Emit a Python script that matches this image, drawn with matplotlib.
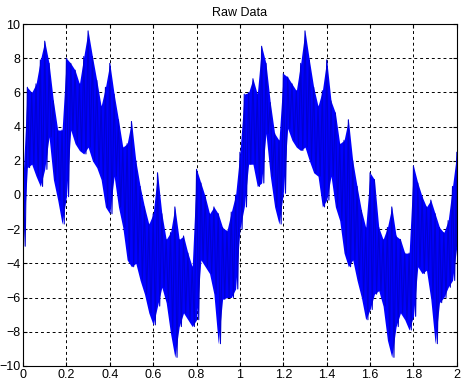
import numpy as np
import matplotlib.pyplot as plt

plt.rcParams['font.family'] = ['Liberation Sans', 'DejaVu Sans']

# envelope of the raw signal, every 0.02 s
t = [0.00, 0.02, 0.04, 0.06, 0.08, 0.10, 0.12, 0.14, 0.16, 0.18,
     0.20, 0.22, 0.24, 0.26, 0.28, 0.30, 0.32, 0.34, 0.36, 0.38,
     0.40, 0.42, 0.44, 0.46, 0.48, 0.50, 0.52, 0.54, 0.56, 0.58,
     0.60, 0.62, 0.64, 0.66, 0.68, 0.70, 0.72, 0.74, 0.76, 0.78,
     0.80, 0.82, 0.84, 0.86, 0.88, 0.90, 0.92, 0.94, 0.96, 0.98,
     1.00, 1.02, 1.04, 1.06, 1.08, 1.10, 1.12, 1.14, 1.16, 1.18,
     1.20, 1.22, 1.24, 1.26, 1.28, 1.30, 1.32, 1.34, 1.36, 1.38,
     1.40, 1.42, 1.44, 1.46, 1.48, 1.50, 1.52, 1.54, 1.56, 1.58,
     1.60, 1.62, 1.64, 1.66, 1.68, 1.70, 1.72, 1.74, 1.76, 1.78,
     1.80, 1.82, 1.84, 1.86, 1.88, 1.90, 1.92, 1.94, 1.96, 1.98]
upper = [1.0, 6.3, 6.0, 6.5, 7.9, 9.0, 7.7, 5.5, 3.8, 3.8,
         8.0, 7.7, 7.3, 6.5, 8.1, 9.6, 8.1, 6.7, 5.2, 6.3,
         7.7, 5.9, 4.4, 2.8, 3.0, 4.3, 2.0, 0.5, -0.7, -1.7,
         -1.1, 1.3, -1.1, -2.6, -2.2, -0.7, -2.6, -2.4, -3.4, -4.2,
         1.5, 0.7, -0.1, -1.1, -0.7, -1.1, -1.9, -2.1, -1.0, 0.0,
         2.5, 5.9, 6.0, 6.8, 5.9, 8.7, 7.7, 5.4, 3.6, 3.2,
         7.1, 6.9, 6.5, 6.1, 7.7, 9.6, 7.9, 6.3, 5.2, 6.1,
         7.9, 5.5, 4.8, 3.0, 3.2, 4.4, 2.0, 0.5, -0.9, -1.9,
         1.3, 0.9, -1.9, -2.6, -1.9, -0.7, -2.4, -2.6, -3.4, -3.4,
         1.7, 0.7, -0.1, -0.7, -0.3, -1.1, -1.9, -2.2, -1.5, 0.5]
lower = [-3.0, 1.6, 1.8, 1.1, 0.5, 1.5, 3.4, 0.9, -0.3, -1.7,
         -0.1, 3.8, 3.0, 2.6, 2.4, 2.8, 2.0, 1.6, 0.9, -0.7,
         -1.1, 1.1, -0.7, -1.9, -3.8, -4.2, -4.0, -5.0, -5.8, -6.9,
         -7.6, -6.5, -5.4, -6.3, -8.1, -9.5, -7.7, -6.9, -7.3, -7.7,
         -7.3, -3.8, -4.2, -4.6, -5.8, -8.7, -6.1, -6.0, -6.0, -5.5,
         -2.0, -0.7, 1.8, 1.8, 0.5, 0.7, 3.6, 1.1, -0.7, -1.7,
         0.1, 3.9, 3.2, 2.8, 2.6, 2.8, 2.0, 1.3, 1.1, -0.7,
         -0.3, 1.1, -0.7, -1.5, -3.4, -4.2, -3.8, -5.0, -6.0, -7.3,
         -6.7, -5.8, -5.6, -6.5, -8.5, -9.5, -7.7, -6.9, -7.3, -7.9,
         -7.1, -4.2, -4.6, -4.4, -6.1, -8.7, -6.3, -6.0, -5.4, -5.0]
t_end = 2.0
y_end = [2.5, -3.0]

# interleave the two envelopes into one dense trace
x = []
y = []
for ti, u, l in zip(t, upper, lower):
    x += [ti, ti + 0.01]
    y += [u, l]
x += [t_end, t_end]
y += y_end

fig = plt.figure(figsize=(4.7, 3.88), dpi=100)
ax = fig.add_axes([0.049, 0.057, 0.923, 0.881])
ax.fill_between(t + [t_end], upper + [y_end[0]], lower + [y_end[1]],
                color='#0000ff', linewidth=0, zorder=2)
ax.plot(x, y, color='#0000d0', linewidth=0.8, zorder=3)

ax.set_xlim(0, 2)
ax.set_ylim(-10, 10)
ax.set_xticks(np.arange(0, 2.01, 0.2))
ax.set_xticklabels(['0', '0.2', '0.4', '0.6', '0.8', '1', '1.2', '1.4', '1.6', '1.8', '2'])
ax.set_yticks(np.arange(-10, 11, 2))
ax.grid(True, color='black', linestyle=(0, (3, 3)), linewidth=0.7)
ax.set_axisbelow(True)
ax.tick_params(direction='in', top=True, right=True, labelsize=9, length=3, pad=2)
for s in ax.spines.values():
    s.set_linewidth(0.8)
    s.set_zorder(4)
ax.set_title('Raw Data', fontsize=9)

fig.savefig('out.png', dpi=100, facecolor='white')
